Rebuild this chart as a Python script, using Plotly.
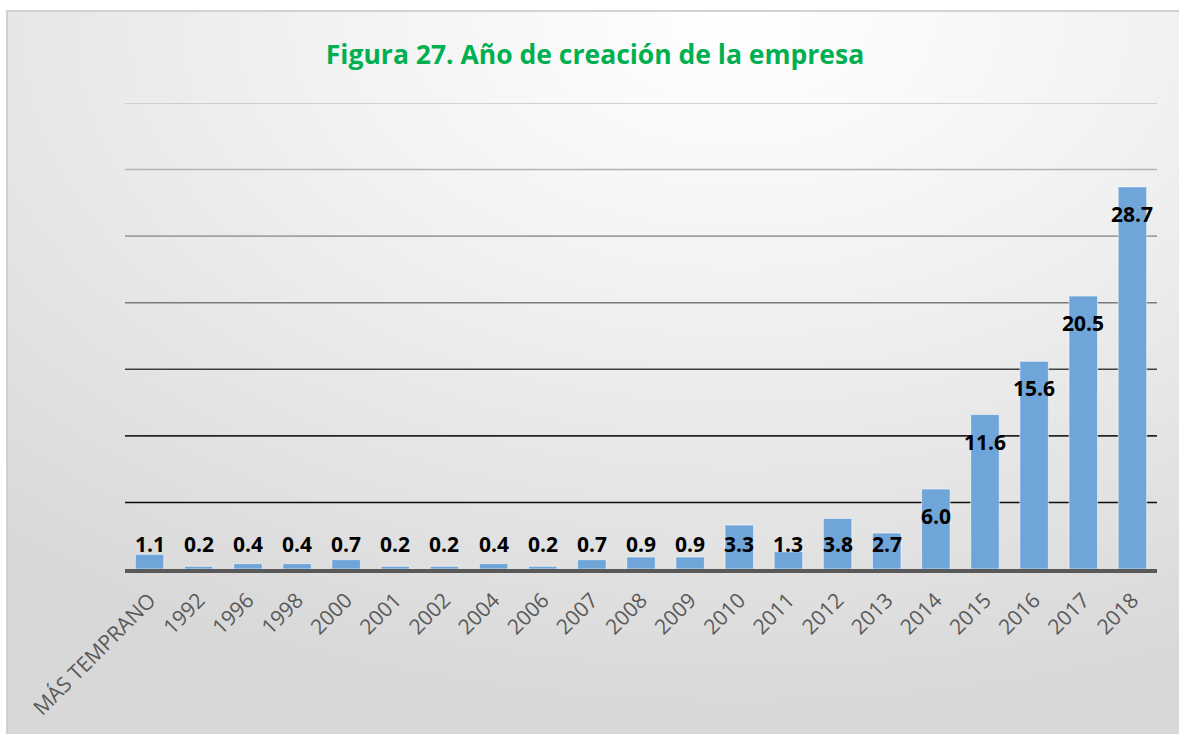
import base64
import plotly.graph_objects as go

categories = ["MÁS TEMPRANO", "1992", "1996", "1998", "2000", "2001", "2002", "2004",
              "2006", "2007", "2008", "2009", "2010", "2011", "2012", "2013", "2014",
              "2015", "2016", "2017", "2018"]
values = [1.1, 0.2, 0.4, 0.4, 0.7, 0.2, 0.2, 0.4, 0.2, 0.7, 0.9, 0.9, 3.3, 1.3, 3.8,
          2.7, 6.0, 11.6, 15.6, 20.5, 28.7]
grid_values = [5, 10, 15, 20, 25, 30, 35]
grid_colors = ["#0d0d0d", "#262626", "#404040", "#7a7a7a", "#a0a0a0", "#b4b4b4", "#c4c4c4"]
title_text = "Figura 27. Año de creación de la empresa"

W, H = 1179, 734
ML, MR, MT, MB = 125, 22, 103, 165
YMAX = 35
plot_w = W - ML - MR
plot_h = H - MT - MB
px_per_unit = plot_h / YMAX

fig = go.Figure()
fig.add_trace(go.Bar(
    x=categories, y=values,
    marker=dict(color="#6fa5d8", line=dict(color="rgba(255,255,255,0.55)", width=1)),
    hoverinfo="x+y",
))

# data labels: inside end for tall bars, above baseline for short ones
annotations = []
for i, v in enumerate(values):
    inside_px = v * px_per_unit - 27
    if inside_px >= 25:
        yv, ys = v, -27
    else:
        yv, ys = 0, 25
    annotations.append(dict(x=i, y=yv, yshift=ys, text=f"{v:.1f}", showarrow=False,
                            xref="x", yref="y", yanchor="middle",
                            font=dict(family="Open Sans", size=21, color="#000000", weight="bold")))

shapes = []
for gv, gc in zip(grid_values, grid_colors):
    shapes.append(dict(type="line", xref="paper", yref="y", x0=0, x1=1, y0=gv, y1=gv,
                       line=dict(color=gc, width=1.6), layer="below"))

# chart frame
fx0 = (7 - ML) / plot_w
fx1 = (W + 5 - ML) / plot_w
fy1 = (H - MB - 11) / plot_h
fy0 = (H - MB - (H + 5)) / plot_h
shapes.append(dict(type="rect", xref="paper", yref="paper", x0=fx0, x1=fx1, y0=fy0, y1=fy1,
                   line=dict(color="#c6c6c6", width=1.5), fillcolor="rgba(0,0,0,0)", layer="above"))

svg = (
    '<svg xmlns="http://www.w3.org/2000/svg" width="1200" height="760" viewBox="0 0 1200 760" preserveAspectRatio="none">'
    '<defs><radialGradient id="g" cx="0.62" cy="0.02" r="0.95" fx="0.62" fy="0.02">'
    '<stop offset="0" stop-color="#ffffff"/>'
    '<stop offset="0.35" stop-color="#f3f3f3"/>'
    '<stop offset="1" stop-color="#d8d8d8"/>'
    '</radialGradient></defs>'
    '<rect x="0" y="0" width="1200" height="760" fill="url(#g)"/></svg>'
)
src = "data:image/svg+xml;base64," + base64.b64encode(svg.encode()).decode()

fig.update_layout(
    width=W, height=H,
    margin=dict(l=ML, r=MR, t=MT, b=MB, pad=0),
    paper_bgcolor="#ffffff",
    plot_bgcolor="rgba(0,0,0,0)",
    title=dict(text=title_text, x=595 / W, xanchor="center", y=1 - 55 / H, yanchor="middle",
               font=dict(family="Open Sans", size=26.5, color="#00b050", weight="bold")),
    xaxis=dict(type="category", range=[-0.5, len(categories) - 0.5], showgrid=False,
               showline=True, linecolor="#595959", linewidth=3.5,
               ticks="", tickangle=-45, ticklabelstandoff=7,
               tickfont=dict(family="Open Sans", size=21, color="#595959")),
    yaxis=dict(range=[0, YMAX], showgrid=False, zeroline=False, showticklabels=False,
               showline=False, fixedrange=True),
    bargap=0.42,
    showlegend=False,
    annotations=annotations,
    shapes=shapes,
    images=[dict(source=src, xref="paper", yref="paper", x=fx0, y=fy1,
                 sizex=fx1 - fx0, sizey=fy1 - fy0, xanchor="left", yanchor="top",
                 sizing="stretch", layer="below")],
)

fig.write_html("out.html", config={"displayModeBar": False},
               post_script="document.body.style.margin='0';")
